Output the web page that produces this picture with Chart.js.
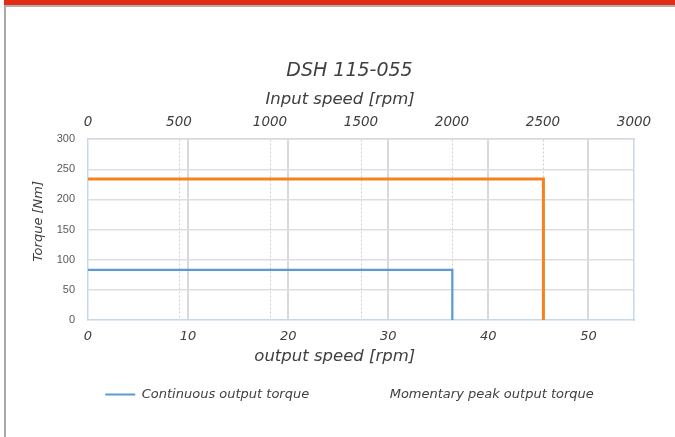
<!DOCTYPE html>
<html>
<head>
<meta charset="utf-8">
<script src="https://cdn.jsdelivr.net/npm/chart.js@4.4.0/dist/chart.umd.js"></script>
<style>
  html, body { margin: 0; padding: 0; background: #fff; }
  #redBar { position: absolute; left: 4px; top: 0; width: 671px; height: 5px; background: #e12d16; }
  #topRule { position: absolute; left: 4px; top: 5px; width: 671px; height: 2px; background: #b2b0b0; }
  #leftRule { position: absolute; left: 4px; top: 5px; width: 2px; height: 432px; background: #a9a9a9; }
  #chartCanvas { position: absolute; left: 0; top: 0; }
</style>
</head>
<body>
<div id="redBar"></div>
<div id="topRule"></div>
<div id="leftRule"></div>
<canvas id="chartCanvas" width="675" height="437"></canvas>
<script>
// dati
const chartTitle = 'DSH 115-055';
const seriesNames = ['Continuous output torque', 'Momentary peak output torque'];
const continuousSpeed = [0, 36.4, 36.4];   // output speed [rpm]
const continuousTorque = [83, 83, 0];      // Torque [Nm]
const peakSpeed = [0, 45.5, 45.5];
const peakTorque = [234, 234, 0];
const outputSpeedMax = 54.55;              // fondo scala asse in basso
const inputSpeedMax = 3000;                // fondo scala asse in alto
const torqueMax = 300;

const FONT = 'DejaVu Sans';
const TEXT = '#404040';
const NBSP = '\u00a0';

const toPoints = (xs, ys) => xs.map((x, i) => ({ x: x, y: ys[i] }));

// sposta la legenda subito sotto il titolo dell'asse x
const legendNudge = {
    id: 'legendNudge',
    afterLayout(chart) {
        const lg = chart.legend;
        const h = lg.height;
        lg.top = 344;
        lg.bottom = lg.top + h;
    }
};

const ctx = document.getElementById('chartCanvas').getContext('2d');
new Chart(ctx, {
    type: 'line',
    data: {
        datasets: [{
            label: seriesNames[0],
            data: toPoints(continuousSpeed, continuousTorque),
            borderColor: '#5b9bd5',
            backgroundColor: '#5b9bd5',
            borderWidth: 2.25,
            borderJoinStyle: 'miter',
            pointRadius: 0,
            tension: 0
        }, {
            label: seriesNames[1],
            data: toPoints(peakSpeed, peakTorque),
            borderColor: '#f5821f',
            backgroundColor: '#f5821f',
            borderWidth: 3,
            borderJoinStyle: 'miter',
            pointRadius: 0,
            tension: 0
        }]
    },
    options: {
        responsive: false,
        animation: false,
        layout: { padding: { left: 24, right: 0, top: 0, bottom: 0 } },
        plugins: {
            tooltip: { enabled: false },
            title: {
                display: true,
                text: chartTitle,
                color: TEXT,
                font: { family: FONT, size: 19, style: 'italic', weight: 'normal' },
                padding: { top: 60, bottom: 0 }
            },
            legend: {
                position: 'bottom',
                maxHeight: 68,
                labels: {
                    boxWidth: 30,
                    boxHeight: 2,
                    padding: 44,
                    color: TEXT,
                    font: { family: FONT, size: 13, style: 'italic' },
                    generateLabels(chart) {
                        const items = Chart.defaults.plugins.legend.labels.generateLabels(chart);
                        items.forEach((it, i) => {
                            it.lineWidth = 0;
                            // nel riferimento la serie arancione non ha il campione di linea
                            it.fillStyle = i === 0 ? '#5b9bd5' : 'rgba(0,0,0,0)';
                            it.strokeStyle = it.fillStyle;
                        });
                        return items;
                    }
                }
            }
        },
        scales: {
            x: {
                type: 'linear',
                position: 'bottom',
                min: 0,
                max: outputSpeedMax,
                afterFit: s => { s.height = 50; },
                ticks: {
                    stepSize: 10,
                    includeBounds: false,
                    padding: 9,
                    color: TEXT,
                    font: { family: FONT, size: 13, style: 'italic' }
                },
                grid: {
                    drawTicks: false,
                    lineWidth: 2,
                    color: c => c.tick && c.tick.value === 0 ? 'rgba(0,0,0,0)' : '#d9d9d9'
                },
                border: { color: '#c5d9ee', width: 1.5 },
                title: {
                    display: true,
                    text: 'output speed [rpm]' + NBSP.repeat(10),
                    color: TEXT,
                    font: { family: FONT, size: 16.5, style: 'italic' },
                    padding: { top: 0, bottom: 3 }
                }
            },
            x2: {
                type: 'linear',
                position: 'top',
                min: 0,
                max: inputSpeedMax,
                afterFit: s => { s.height = 56.4; },
                ticks: {
                    stepSize: 500,
                    padding: 9,
                    color: TEXT,
                    font: { family: FONT, size: 13.5, style: 'italic' },
                    callback: v => String(v)
                },
                grid: {
                    drawTicks: false,
                    lineWidth: 1,
                    color: c => c.tick && (c.tick.value === 0 || c.tick.value === inputSpeedMax) ? 'rgba(0,0,0,0)' : '#cfcfcf'
                },
                border: { color: '#d9d9d9', width: 1.5, dash: [2, 2] },
                title: {
                    display: true,
                    text: 'Input speed [rpm]' + NBSP.repeat(8),
                    color: TEXT,
                    font: { family: FONT, size: 16.5, style: 'italic' },
                    padding: { top: 7.5, bottom: 0 }
                }
            },
            y: {
                type: 'linear',
                position: 'left',
                min: 0,
                max: torqueMax,
                afterFit: s => { s.width = 64; },
                ticks: {
                    stepSize: 50,
                    padding: 13,
                    color: '#595959',
                    font: { family: 'Liberation Sans', size: 11 }
                },
                grid: {
                    drawTicks: false,
                    lineWidth: 1.5,
                    color: c => c.tick && c.tick.value === 0 ? 'rgba(0,0,0,0)' : '#dedede'
                },
                border: { color: '#c5d9ee', width: 1.5 },
                title: {
                    display: true,
                    text: NBSP.repeat(4) + 'Torque [Nm]',
                    color: TEXT,
                    font: { family: FONT, size: 13, style: 'italic' },
                    padding: { top: 7, bottom: 0 }
                }
            },
            yRight: {
                type: 'linear',
                position: 'right',
                min: 0,
                max: torqueMax,
                afterFit: s => { s.width = 41; },
                ticks: { display: false },
                grid: { display: false, drawTicks: false },
                border: { display: true, color: '#c5d9ee', width: 1.5 }
            }
        }
    },
    plugins: [legendNudge]
});
</script>
</body>
</html>
